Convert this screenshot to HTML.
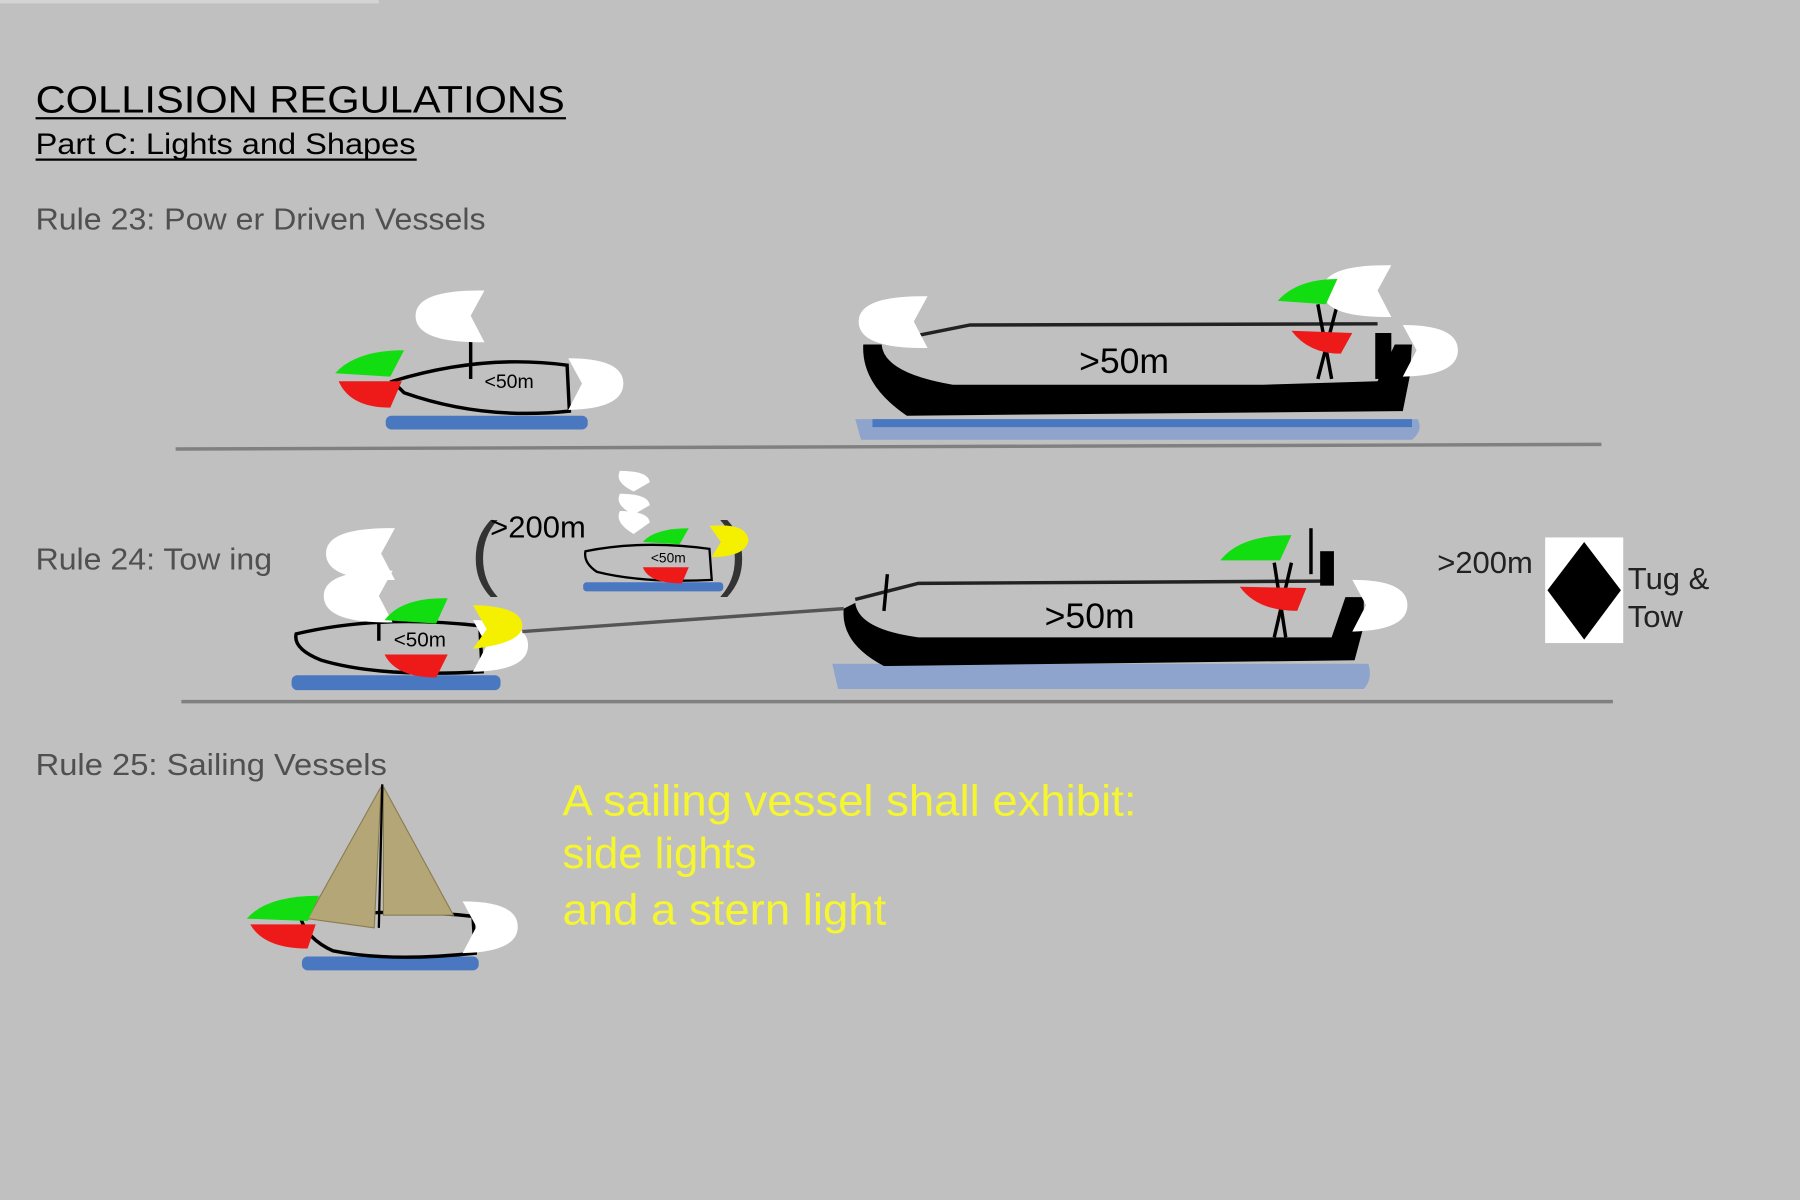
<!DOCTYPE html>
<html><head><meta charset="utf-8"><style>
html,body{margin:0;padding:0;background:#c0c0c0;}
svg{display:block}
text{font-family:"Liberation Sans",sans-serif;}
</style></head><body>
<svg width="1800" height="1200" viewBox="0 0 1568 1045" preserveAspectRatio="none" xmlns="http://www.w3.org/2000/svg">
<defs>
<path id="wl" d="M60,0 L48,22 L60,45 Q0,46 0,22 Q0,-1 60,0Z" fill="#fff"/>
<path id="wr" d="M0,0 L12,22 L0,45 Q48,44 48,22 Q48,0 0,0Z" fill="#fff"/>
</defs>
<rect width="1568" height="1045" fill="#c0c0c0"/>
<rect x="0" y="0" width="330" height="3" fill="#d4d4d4"/>
<text x="31" y="98" font-size="33" fill="#000" textLength="461" lengthAdjust="spacingAndGlyphs">COLLISION REGULATIONS</text>
<line x1="31" y1="103" x2="493" y2="103" stroke="#000" stroke-width="2"/>
<text x="31" y="134" font-size="26" fill="#000" textLength="331" lengthAdjust="spacingAndGlyphs">Part C: Lights and Shapes</text>
<line x1="31" y1="139" x2="363" y2="139" stroke="#000" stroke-width="2"/>
<text x="31" y="200" font-size="27" fill="#505050" textLength="392" lengthAdjust="spacingAndGlyphs">Rule 23: Pow er Driven Vessels</text>

<!-- Rule 23 small boat -->
<rect x="336" y="362" width="176" height="12" rx="5" fill="#4a78c0"/>
<path d="M342,332 Q420,308 494,318 L496,358 Q420,366 352,342 Z" fill="#c0c0c0" stroke="#000" stroke-width="3"/>
<line x1="410" y1="290" x2="410" y2="330" stroke="#000" stroke-width="3"/>
<use href="#wl" x="362" y="253"/>
<use href="#wr" x="495" y="312"/>
<path d="M292,325 Q310,305 352,305 L340,328 Z" fill="#11dd11"/>
<path d="M295,332 L350,332 L340,355 Q305,355 295,332Z" fill="#ee1a1a"/>
<text x="422" y="338" font-size="17">&lt;50m</text>

<!-- Rule 23 big ship -->
<path d="M745,365 L1235,365 Q1240,375 1230,383 L750,383 Z" fill="#8ea4cc"/>
<path d="M760,365 L1230,365 L1230,372 L760,372Z" fill="#4a78c0"/>
<path d="M752,300 Q750,335 790,362 L1222,358 L1228,328 L1230,300 L1215,300 L1200,332 L1100,335 L830,335 Q770,325 768,300 Z" fill="#000"/>
<path d="M800,292 L845,283 L1200,282" fill="none" stroke="#222" stroke-width="3"/>
<line x1="1148" y1="265" x2="1160" y2="330" stroke="#000" stroke-width="3"/>
<line x1="1165" y1="265" x2="1148" y2="330" stroke="#000" stroke-width="3"/>
<rect x="1198" y="290" width="14" height="40" fill="#000"/>
<use href="#wl" x="748" y="258"/>
<use href="#wl" x="1152" y="231"/>
<use href="#wr" x="1222" y="283"/>
<path d="M1113,262 Q1130,243 1165,243 L1155,265 Z" fill="#11dd11"/>
<path d="M1125,288 L1178,290 L1168,308 Q1140,308 1125,288Z" fill="#ee1a1a"/>
<text x="940" y="325" font-size="31">&gt;50m</text>
<line x1="153" y1="391" x2="1395" y2="387" stroke="#808080" stroke-width="3"/>

<!-- Rule 24 -->
<text x="31" y="496" font-size="27" fill="#505050" textLength="206" lengthAdjust="spacingAndGlyphs">Rule 24: Tow ing</text>
<rect x="254" y="588" width="182" height="13" rx="5" fill="#4a78c0"/>
<path d="M258,552 Q330,535 418,545 L420,585 Q330,590 280,575 Q255,565 258,552Z" fill="#c0c0c0" stroke="#000" stroke-width="3"/>
<line x1="330" y1="540" x2="330" y2="558" stroke="#000" stroke-width="3"/>
<use href="#wl" x="284" y="460"/>
<use href="#wl" x="282" y="497"/>
<use href="#wr" x="412" y="540"/>
<path d="M412,527 L424,548 L412,565 Q455,560 455,545 Q455,528 412,527Z" fill="#f5f000"/>
<path d="M335,540 Q350,520 390,521 L380,543 Z" fill="#11dd11"/>
<path d="M335,570 L390,570 L380,590 Q345,590 335,570Z" fill="#ee1a1a"/>
<text x="343" y="563" font-size="18">&lt;50m</text>
<line x1="455" y1="550" x2="735" y2="530" stroke="#555" stroke-width="3"/>
<text x="410" y="505" font-size="72" fill="#333">(</text>
<text x="627" y="505" font-size="72" fill="#333">)</text>
<text x="427" y="468" font-size="27">&gt;200m</text>
<rect x="508" y="507" width="122" height="8" rx="3" fill="#4a78c0"/>
<path d="M510,480 Q560,470 618,478 L620,505 Q560,508 520,498 Q508,490 510,480Z" fill="#c0c0c0" stroke="#000" stroke-width="2"/>
<path d="M540,410 Q565,410 566,420 L552,428 Q535,420 540,410Z" fill="#fff"/>
<path d="M540,430 Q565,430 566,440 L552,448 Q535,440 540,430Z" fill="#fff"/>
<path d="M540,445 Q565,445 566,455 L552,465 Q535,455 540,445Z" fill="#fff"/>
<path d="M618,458 Q650,455 652,470 Q650,485 620,485 L628,472Z" fill="#f5f000"/>
<path d="M560,472 Q570,460 600,460 L592,474Z" fill="#11dd11"/>
<path d="M560,494 L600,494 L594,508 Q565,508 560,494Z" fill="#ee1a1a"/>
<text x="567" y="490" font-size="12">&lt;50m</text>

<path d="M725,578 L1192,578 Q1196,592 1188,600 L730,600 Z" fill="#8ea4cc"/>
<path d="M735,530 Q732,560 770,580 L1180,575 L1188,545 L1188,520 L1172,520 L1160,555 L1080,555 L800,555 Q748,548 745,525 Z" fill="#000"/>
<path d="M745,522 L800,508 L1160,506" fill="none" stroke="#222" stroke-width="3"/>
<line x1="773" y1="500" x2="770" y2="532" stroke="#000" stroke-width="3"/>
<line x1="1110" y1="490" x2="1120" y2="555" stroke="#000" stroke-width="3"/>
<line x1="1125" y1="490" x2="1110" y2="555" stroke="#000" stroke-width="3"/>
<line x1="1142" y1="460" x2="1142" y2="500" stroke="#000" stroke-width="3"/>
<rect x="1150" y="480" width="12" height="30" fill="#000"/>
<use href="#wr" x="1178" y="505"/>
<path d="M1063,488 Q1080,466 1125,466 L1115,488 Z" fill="#11dd11"/>
<path d="M1080,511 L1138,512 L1130,532 Q1095,532 1080,511Z" fill="#ee1a1a"/>
<text x="910" y="547" font-size="31">&gt;50m</text>
<text x="1252" y="499" font-size="27" fill="#222">&gt;200m</text>
<rect x="1346" y="468" width="68" height="92" fill="#fff"/>
<path d="M1380,472 L1412,514 L1380,557 L1348,514Z" fill="#000"/>
<text x="1418" y="513" font-size="27" fill="#222">Tug &amp;</text>
<text x="1418" y="546" font-size="27" fill="#222">Tow</text>
<line x1="158" y1="611" x2="1405" y2="611" stroke="#808080" stroke-width="3"/>

<!-- Rule 25 -->
<text x="31" y="675" font-size="27" fill="#505050" textLength="306" lengthAdjust="spacingAndGlyphs">Rule 25: Sailing Vessels</text>
<rect x="263" y="833" width="154" height="12" rx="5" fill="#4a78c0"/>
<path d="M262,800 Q340,790 412,798 L414,830 Q340,838 290,828 Q268,818 262,800Z" fill="#c0c0c0" stroke="#000" stroke-width="3"/>
<path d="M332,685 L268,800 L326,808Z" fill="#b4a676" stroke="#8a7d50"/>
<path d="M334,685 L395,797 L334,797Z" fill="#b4a676" stroke="#8a7d50"/>
<line x1="333" y1="683" x2="330" y2="808" stroke="#000" stroke-width="2"/>
<use href="#wr" x="403" y="785"/>
<path d="M215,800 Q232,780 278,780 L268,802 Z" fill="#11dd11"/>
<path d="M218,805 L275,805 L268,826 Q230,826 218,805Z" fill="#ee1a1a"/>
<text x="490" y="710" font-size="38" fill="#f5f530" textLength="500" lengthAdjust="spacingAndGlyphs">A sailing vessel shall exhibit:</text>
<text x="490" y="756" font-size="38" fill="#f5f530">side lights</text>
<text x="490" y="805" font-size="38" fill="#f5f530" textLength="282" lengthAdjust="spacingAndGlyphs">and a stern light</text>
</svg>
</body></html>
